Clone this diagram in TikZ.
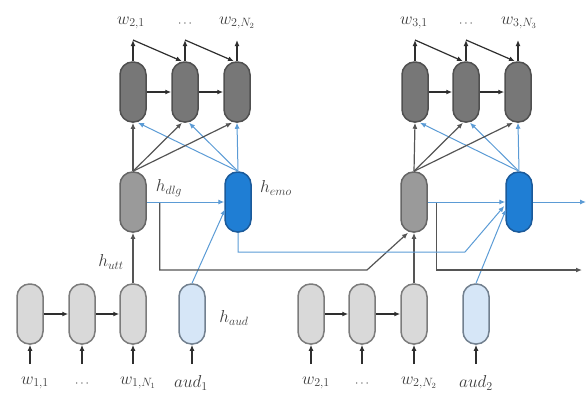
\documentclass[tikz,border=0pt]{standalone}
\usetikzlibrary{arrows.meta,calc}
\definecolor{decfill}{HTML}{777777}
\definecolor{decline}{HTML}{505050}
\definecolor{dlgfill}{HTML}{9A9A9A}
\definecolor{dlgline}{HTML}{666666}
\definecolor{encfill}{HTML}{D9D9D9}
\definecolor{encline}{HTML}{7C7C7C}
\definecolor{emofill}{HTML}{1F7ED4}
\definecolor{emoline}{HTML}{1B5A9A}
\definecolor{audfill}{HTML}{D6E6F7}
\definecolor{audline}{HTML}{72808F}
\definecolor{bluelink}{HTML}{5B9BD5}
\definecolor{darklink}{HTML}{2E2E2E}
\definecolor{graylink}{HTML}{555555}
\definecolor{labelcol}{HTML}{3C3C3C}
\tikzset{
  pill/.style={rectangle, rounded corners=12.5pt, minimum width=26pt,
    minimum height=60pt, inner sep=0pt, line width=1.5pt},
  decpill/.style={pill, fill=decfill, draw=decline},
  dlgpill/.style={pill, fill=dlgfill, draw=dlgline},
  encpill/.style={pill, fill=encfill, draw=encline},
  emopill/.style={pill, fill=emofill, draw=emoline},
  audpill/.style={pill, fill=audfill, draw=audline},
  arr/.style={-{Latex[length=6pt,width=5pt]}, line width=1.2pt, draw=darklink},
  barr/.style={-{Latex[length=6pt,width=5pt]}, line width=1pt, draw=bluelink},
  garr/.style={-{Latex[length=6pt,width=5pt]}, line width=1.2pt, draw=graylink},
  lbl/.style={text=labelcol, font=\fontsize{17}{20}\selectfont, inner sep=0pt},
  dotlbl/.style={text=labelcol, font=\fontsize{12}{14}\selectfont, inner sep=0pt},
}
\begin{document}
\begin{tikzpicture}[x=1pt,y=-1pt]
\useasboundingbox (0,0) rectangle (587,394);

% ---- turn 1: decoder, dialogue and emotion states, encoders ----
\node[decpill] (d11) at (133,92) {};
\node[decpill] (d12) at (185,92) {};
\node[decpill] (d13) at (237,92) {};
\node[dlgpill] (dlg1) at (133,202) {};
\node[emopill] (emo1) at (238,202) {};
\node[encpill] (e11) at (30,314) {};
\node[encpill] (e12) at (82,314) {};
\node[encpill] (e13) at (133,314) {};
\node[audpill] (aud1) at (192,314) {};

% ---- turn 2 ----
\node[decpill] (d21) at (415,92) {};
\node[decpill] (d22) at (466,92) {};
\node[decpill] (d23) at (518,92) {};
\node[dlgpill] (dlg2) at (414,202) {};
\node[emopill] (emo2) at (519,202) {};
\node[encpill] (e21) at (311,314) {};
\node[encpill] (e22) at (362,314) {};
\node[encpill] (e23) at (414,314) {};
\node[audpill] (aud2) at (476,314) {};

% output word positions
\coordinate (o11) at (133,40);
\coordinate (o12) at (185,40);
\coordinate (o13) at (237,40);
\coordinate (o21) at (415,40);
\coordinate (o22) at (466,40);
\coordinate (o23) at (518,40);

% input word positions
\foreach \n/\x in {i11/30,i12/82,i13/133,ia1/192,i21/311,i22/362,i23/414,ia2/476}
  \coordinate (\n) at (\x,364);

% ---- labels ----
\node[lbl] (lw21) at (131,23) {$w_{2,1}$};
\node[dotlbl] (ldots1) at (185,24) {$\cdots$};
\node[lbl] (lw2n) at (237,23) {$w_{2,N_2}$};
\node[lbl] (lw31) at (414,23) {$w_{3,1}$};
\node[dotlbl] (ldots2) at (466,24) {$\cdots$};
\node[lbl] (lw3n) at (519,23) {$w_{3,N_3}$};

\node[lbl] (lw11) at (35,383) {$w_{1,1}$};
\node[dotlbl] (ld1) at (82,384) {$\cdots$};
\node[lbl] (lw1n) at (138,383) {$w_{1,N_1}$};
\node[lbl] (la1) at (191,383) {$aud_1$};
\node[lbl] (lw2a) at (316,383) {$w_{2,1}$};
\node[dotlbl] (ld2) at (362,384) {$\cdots$};
\node[lbl] (lw2b) at (419,383) {$w_{2,N_2}$};
\node[lbl] (la2) at (476,383) {$aud_2$};

\node[lbl] (hdlg) at (169,188) {$h_{dlg}$};
\node[lbl] (hemo) at (276,188) {$h_{emo}$};
\node[lbl] (hutt) at (111,262) {$h_{utt}$};
\node[lbl] (haud) at (234,318) {$h_{aud}$};

% ---- decoder chains ----
\foreach \a/\b in {d11/d12,d12/d13,d21/d22,d22/d23}
  \draw[arr] (\a.east) -- (\b.west);
\foreach \p/\o in {d11/o11,d12/o12,d13/o13,d21/o21,d22/o22,d23/o23}
  \draw[arr] (\p.north) -- (\o);
\draw[arr] (o11) -- ($(d12.north)+(-3,0)$);
\draw[arr] (o12) -- ($(d13.north)+(-3,0)$);
\draw[arr] (o21) -- ($(d22.north)+(-3,0)$);
\draw[arr] (o22) -- ($(d23.north)+(-3,0)$);

% ---- encoder chains ----
\foreach \a/\b in {e11/e12,e12/e13,e21/e22,e22/e23}
  \draw[arr] (\a.east) -- (\b.west);
\foreach \i/\p in {i11/e11,i12/e12,i13/e13,ia1/aud1,i21/e21,i22/e22,i23/e23,ia2/aud2}
  \draw[arr] (\i) -- (\p.south);

% utterance vectors into the dialogue state
\draw[garr] (e13.north) -- (dlg1.south);
\draw[garr] (e23.north) -- (dlg2.south);

% ---- dialogue and emotion states feed the decoder ----
\foreach \g/\e/\da/\db/\dc in {dlg1/emo1/d11/d12/d13, dlg2/emo2/d21/d22/d23} {
  \draw[barr] (\e.north) -- ($(\da.south)+(5,0)$);
  \draw[barr] (\e.north) -- ($(\db.south)+(4,0)$);
  \draw[barr] (\e.north) -- (\dc.south);
  \draw[garr] (\g.north) -- (\da.south);
  \draw[garr] (\g.north) -- ($(\db.south)+(-3,0)$);
  \draw[garr] (\g.north) -- ($(\dc.south)+(-5,0)$);
  \draw[barr] (\g.east) -- (\e.west);
}

% audio features into the emotion state
\draw[barr] (aud1.north) -- ($(emo1.west)+(1,7)$);
\draw[barr] (aud2.north) -- ($(emo2.west)+(1,7)$);

% dialogue state carried to the next turn
\coordinate (b1) at ($(dlg1.east)+(13,1)$);
\coordinate (b2) at ($(dlg2.east)+(9,1)$);
\coordinate (g1) at (367,270);
\draw[garr] (b1) |- (g1) -- ($(dlg2.south)+(-6,0)$);
\coordinate (gout) at (582,270);
\draw[garr] (b2) |- (gout);

% emotion state carried to the next turn
\coordinate (c1) at (465,252);
\draw[barr] (emo1.south) |- (c1) -- ($(emo2.west)+(-1,4)$);
\coordinate (eout) at (586,202);
\draw[barr] (emo2.east) -- (eout);
\end{tikzpicture}
\end{document}
